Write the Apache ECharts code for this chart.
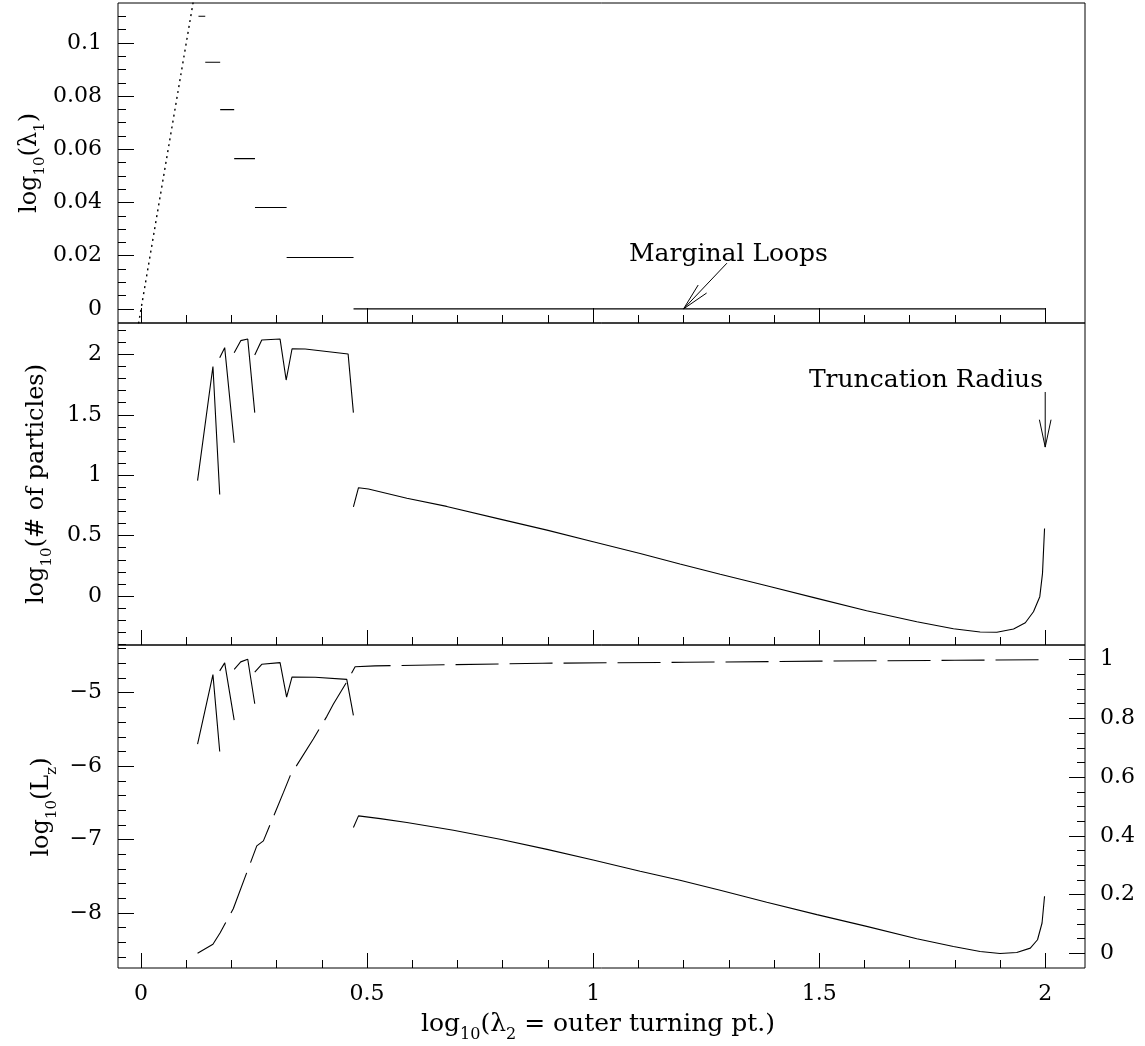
<!DOCTYPE html>
<html>
<head>
<meta charset="utf-8">
<title>Orbit families</title>
<script src="https://cdn.jsdelivr.net/npm/echarts@6.0.0/dist/echarts.min.js"></script>
<style>
  html, body { margin: 0; padding: 0; background: #fff; }
  #chart { width: 1145px; height: 1046px; }
</style>
</head>
<body>
<div id="chart"></div>
<script>
// tick positions
const xMajor = [0, 0.5, 1, 1.5, 2];
const xMinor = [0.1, 0.2, 0.3, 0.4, 0.6, 0.7, 0.8, 0.9, 1.1, 1.2, 1.3, 1.4, 1.6, 1.7, 1.8, 1.9];
const lamMajor = [0, 0.02, 0.04, 0.06, 0.08, 0.1];
const lamMinor = [0.005, 0.01, 0.015, 0.025, 0.03, 0.035, 0.045, 0.05, 0.055, 0.065, 0.07, 0.075, 0.085, 0.09, 0.095, 0.105, 0.11];
const countMajor = [0, 0.5, 1, 1.5, 2];
const countMinor = [-0.4, -0.3, -0.2, -0.1, 0.1, 0.2, 0.3, 0.4, 0.6, 0.7, 0.8, 0.9, 1.1, 1.2, 1.3, 1.4, 1.6, 1.7, 1.8, 1.9, 2.1, 2.2];
const lzMajor = [-8, -7, -6, -5];
const lzMinor = [-8.6, -8.4, -8.2, -7.8, -7.6, -7.4, -7.2, -6.8, -6.6, -6.4, -6.2, -5.8, -5.6, -5.4, -5.2, -4.8, -4.6, -4.4];
const fracMajor = [0, 0.2, 0.4, 0.6, 0.8, 1];
const fracMinor = [0.05, 0.1, 0.15, 0.25, 0.3, 0.35, 0.45, 0.5, 0.55, 0.65, 0.7, 0.75, 0.85, 0.9, 0.95];

// top panel: log10(lambda1)
const stepStart = [0.127, 0.142, 0.175, 0.206, 0.252, 0.322, 0.470];
const stepEnd   = [0.142, 0.175, 0.206, 0.252, 0.322, 0.470, 2.0];
const stepLevel = [0.110, 0.0927, 0.0749, 0.0565, 0.0381, 0.0193, 0];
const diagonal = [[-0.01, -0.01], [0.12, 0.12]];

// middle panel: log10(# of particles)
const countSeg1 = [[0.125, 0.955], [0.159, 1.90], [0.174, 0.84]];
const countSeg2 = [[0.174, 1.973], [0.185, 2.056], [0.206, 1.269]];
const countSeg3 = [[0.206, 2.014], [0.2205, 2.114], [0.236, 2.127], [0.2515, 1.518]];
const countSeg4 = [[0.2515, 1.995], [0.267, 2.119], [0.3075, 2.127], [0.321, 1.788], [0.334, 2.047],
                   [0.363, 2.045], [0.458, 2.003], [0.4697, 1.518]];
const countCurve = [[0.4697, 0.739], [0.481, 0.897], [0.503, 0.886], [0.588, 0.809], [0.676, 0.742],
                    [0.794, 0.637], [0.898, 0.546], [1.0, 0.450], [1.104, 0.353], [1.192, 0.265],
                    [1.281, 0.180], [1.384, 0.085], [1.495, -0.019], [1.605, -0.122], [1.716, -0.213],
                    [1.797, -0.270], [1.856, -0.298], [1.893, -0.300], [1.930, -0.273], [1.956, -0.221],
                    [1.974, -0.130], [1.988, -0.005], [1.994, 0.188], [1.9985, 0.560]];

// bottom panel: log10(Lz) (solid, left axis) and fraction (dashed, right axis)
const lzSeg1 = [[0.125, -5.70], [0.159, -4.754], [0.174, -5.80]];
const lzSeg2 = [[0.174, -4.703], [0.185, -4.594], [0.206, -5.374]];
const lzSeg3 = [[0.206, -4.681], [0.2205, -4.58], [0.236, -4.544], [0.2515, -5.15]];
const lzSeg4 = [[0.2515, -4.72], [0.267, -4.613], [0.3075, -4.59], [0.322, -5.06], [0.334, -4.785],
                [0.385, -4.79], [0.455, -4.818], [0.4697, -5.31]];
const lzCurve = [[0.4697, -6.837], [0.481, -6.678], [0.529, -6.715], [0.588, -6.769], [0.691, -6.874],
                 [0.794, -6.997], [0.898, -7.134], [1.0, -7.280], [1.104, -7.431], [1.192, -7.554],
                 [1.281, -7.691], [1.384, -7.855], [1.495, -8.023], [1.605, -8.183], [1.716, -8.352],
                 [1.797, -8.457], [1.856, -8.525], [1.900, -8.553], [1.937, -8.539], [1.967, -8.479],
                 [1.983, -8.365], [1.993, -8.137], [1.9985, -7.773]];
const fracCurve = [[0.125, 0.0], [0.159, 0.031], [0.175, 0.070], [0.204, 0.152], [0.256, 0.366],
                   [0.2706, 0.383], [0.315, 0.548], [0.330, 0.605], [0.381, 0.73], [0.411, 0.807],
                   [0.4255, 0.849], [0.4587, 0.934], [0.4735, 0.976], [0.5177, 0.979], [0.573, 0.98],
                   [0.888, 0.988], [1.204, 0.991], [1.5, 0.995], [1.8, 0.998], [2.0, 1.0]];

// annotation arrows (tail, tip) in data units
const marginalArrow = [[1.296, 0.0172], [1.2, 0]];
const truncArrow = [[2.0, 1.689], [2.0, 1.233]];

const FONT = 'DejaVu Serif';
const chart = echarts.init(document.getElementById('chart'));

const grids = [
  { left: 118, right: 60, top: 3, height: 320 },
  { left: 118, right: 60, top: 323, height: 322 },
  { left: 118, right: 60, top: 645, height: 323 }
].map(g => Object.assign(g, { show: true, borderColor: '#000', borderWidth: 1, backgroundColor: 'transparent', outerBoundsMode: 'none' }));

const labelStyle = { color: '#000', fontFamily: FONT, fontSize: 22 };
const minus = v => String(v).replace('-', '\u2212');

function axis(kind, grid, pos, min, max, ticks, len, labels) {
  return {
    type: 'value', gridIndex: grid, position: pos, min: min, max: max,
    axisLine: { show: false, onZero: false },
    splitLine: { show: false },
    axisTick: { show: true, inside: true, length: len, customValues: ticks, lineStyle: { color: '#000', width: 1 } },
    axisLabel: labels
      ? Object.assign({ show: true, customValues: ticks, margin: kind === 'x' ? 15 : 16, formatter: minus }, labelStyle)
      : { show: false }
  };
}

const xMin = -0.051, xMax = 2.088;
const xAxes = [];
for (let g = 0; g < 3; g++) {
  xAxes.push(axis('x', g, 'bottom', xMin, xMax, xMajor, 15, g === 2));
  xAxes.push(axis('x', g, 'bottom', xMin, xMax, xMinor, 8, false));
}

const yAxes = [
  axis('y', 0, 'left', -0.0053, 0.115, lamMajor, 16, true),
  axis('y', 0, 'left', -0.0053, 0.115, lamMinor, 8, false),
  axis('y', 1, 'left', -0.405, 2.26, countMajor, 16, true),
  axis('y', 1, 'left', -0.405, 2.26, countMinor, 8, false),
  axis('y', 2, 'left', -8.75, -4.35, lzMajor, 16, true),
  axis('y', 2, 'left', -8.75, -4.35, lzMinor, 8, false),
  axis('y', 2, 'right', -0.05, 1.05, fracMajor, 16, true),
  axis('y', 2, 'right', -0.05, 1.05, fracMinor, 8, false)
];
yAxes[6].axisLabel.margin = 15;

function line(data, xi, yi, extra) {
  return {
    type: 'line', xAxisIndex: xi, yAxisIndex: yi, data: data,
    symbol: 'none', silent: true, animation: false,
    lineStyle: Object.assign({ color: '#000', width: 1.1 }, extra || {})
  };
}

const series = [];
series.push(line(diagonal, 0, 0, { type: [2, 4], width: 1.4 }));
stepLevel.forEach((lv, i) => {
  series.push(line([[stepStart[i], lv], [stepEnd[i], lv]], 0, 0));
});
[countSeg1, countSeg2, countSeg3, countSeg4, countCurve].forEach(s => series.push(line(s, 2, 2)));
[lzSeg1, lzSeg2, lzSeg3, lzSeg4, lzCurve].forEach(s => series.push(line(s, 4, 4)));
series.push(line(fracCurve, 4, 6, { type: [43, 11] }));

chart.setOption({
  animation: false,
  backgroundColor: '#fff',
  grid: grids,
  xAxis: xAxes,
  yAxis: yAxes,
  series: series
});

// axis titles with subscripts
function richFor(size, sub) {
  return {
    m: { fontSize: size, fontFamily: FONT, fill: '#000', verticalAlign: 'bottom', padding: [0, 0, 6, 0] },
    s: { fontSize: sub, fontFamily: FONT, fill: '#000', verticalAlign: 'bottom' }
  };
}
function title(text, x, y, rot, size, sub) {
  return {
    type: 'text', x: x, y: y, rotation: rot || 0, silent: true,
    style: { text: text, rich: richFor(size, sub), align: 'center', verticalAlign: 'middle', fill: '#000' }
  };
}
function note(text, x, y, align) {
  return {
    type: 'text', x: x, y: y, silent: true,
    style: { text: text, font: '25px "' + FONT + '"', fill: '#000', align: align, verticalAlign: 'middle' }
  };
}
function arrow(xi, yi, pts) {
  const tail = chart.convertToPixel({ xAxisIndex: xi, yAxisIndex: yi }, pts[0]);
  const tip = chart.convertToPixel({ xAxisIndex: xi, yAxisIndex: yi }, pts[1]);
  const ang = Math.atan2(tail[1] - tip[1], tail[0] - tip[0]);
  const L = 28, a = 12 * Math.PI / 180;
  const b1 = [tip[0] + L * Math.cos(ang + a), tip[1] + L * Math.sin(ang + a)];
  const b2 = [tip[0] + L * Math.cos(ang - a), tip[1] + L * Math.sin(ang - a)];
  return [
    { type: 'line', silent: true, shape: { x1: tail[0], y1: tail[1], x2: tip[0], y2: tip[1] }, style: { stroke: '#000', lineWidth: 1 } },
    { type: 'polyline', silent: true, shape: { points: [b1, tip, b2] }, style: { stroke: '#000', lineWidth: 1, fill: null } }
  ];
}

chart.setOption({
  graphic: [
    title('{m|log}{s|10}{m|(λ}{s|1}{m|)}', 33, 163, Math.PI / 2, 24, 15),
    title('{m|log}{s|10}{m|(# of particles)}', 40, 484, Math.PI / 2, 24, 15),
    title('{m|log}{s|10}{m|(L}{s|z}{m|)}', 45, 807, Math.PI / 2, 24, 15),
    title('{m|log}{s|10}{m|(λ}{s|2}{m| = outer turning pt.)}', 598, 1027, 0, 25, 16),
    note('Marginal Loops', 629, 254, 'left'),
    note('Truncation Radius', 1043, 380, 'right')
  ].concat(arrow(0, 0, marginalArrow), arrow(2, 2, truncArrow))
});
</script>
</body>
</html>
